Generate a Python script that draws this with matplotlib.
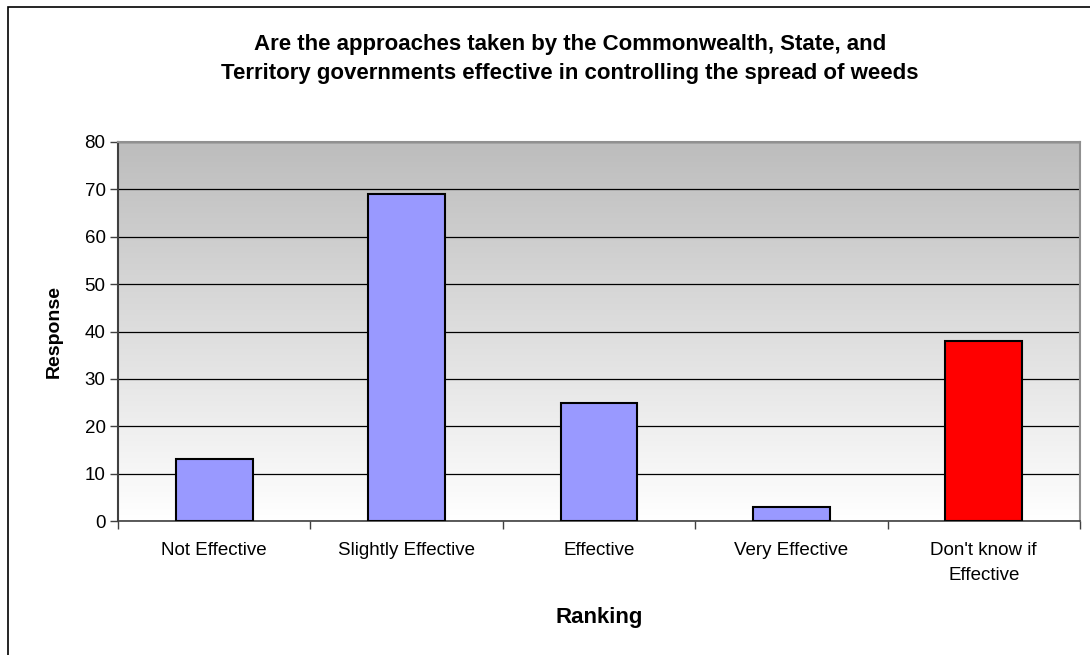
import matplotlib.pyplot as plt
import numpy as np
from matplotlib.patches import Rectangle

categories = ['Not Effective', 'Slightly Effective', 'Effective', 'Very Effective',
              "Don't know if\nEffective"]
responses = [13, 69, 25, 3, 38]
bar_colors = ['#9999ff', '#9999ff', '#9999ff', '#9999ff', '#ff0000']
title = ('Are the approaches taken by the Commonwealth, State, and\n'
         'Territory governments effective in controlling the spread of weeds')

plt.rcParams['font.family'] = ['Liberation Sans', 'DejaVu Sans']

W, H = 1090, 655
fig = plt.figure(figsize=(W / 100, H / 100), dpi=100)
fig.patch.set_facecolor('white')

# chart frame (left and top edges visible)
fig.patches.append(Rectangle((8 / W, -0.05), 1.1, 1 - 7 / H + 0.05,
                             transform=fig.transFigure, fill=False,
                             edgecolor='black', linewidth=1.2))

ax = fig.add_axes([118 / W, (H - 521) / H, (1080 - 118) / W, (521 - 142) / H])

# gray-to-white gradient background
grad = np.linspace(0, 1, 256).reshape(-1, 1)
top, bottom = np.array([0.74, 0.74, 0.74]), np.array([1.0, 1.0, 1.0])
img = top + (bottom - top) * grad[:, :, None]
ax.imshow(img, extent=[0, 1, 0, 1], transform=ax.transAxes, aspect='auto',
          zorder=0, interpolation='bilinear')

x = np.arange(len(categories))
ax.bar(x, responses, width=0.4, color=bar_colors, edgecolor='black',
       linewidth=1.5, zorder=3)

ax.set_xlim(-0.5, len(categories) - 0.5)
ax.set_ylim(0, 80)
ax.set_yticks(range(0, 81, 10))
ax.yaxis.grid(True, color='black', linewidth=0.9, zorder=1)
ax.set_axisbelow(True)

ax.set_xticks(x)
ax.set_xticklabels(categories, fontsize=13.5, linespacing=1.6)
ax.set_xticks(np.arange(-0.5, len(categories), 1), minor=True)
ax.tick_params(axis='x', which='major', length=0, pad=15)
ax.tick_params(axis='x', which='minor', length=6, width=1, color='#404040')
ax.tick_params(axis='y', length=6, width=1, labelsize=13.5, pad=3, color='#404040')

for side in ['top', 'right']:
    ax.spines[side].set_color('#909090')
    ax.spines[side].set_linewidth(1.5)
ax.spines['left'].set_color('#404040')
ax.spines['left'].set_linewidth(1.5)
ax.spines['bottom'].set_color('#404040')
ax.spines['bottom'].set_linewidth(1.2)

ax.set_ylabel('Response', fontsize=14, fontweight='bold', labelpad=16)
ax.set_xlabel('Ranking', fontsize=16, fontweight='bold', labelpad=17)

fig.text(570 / W, 1 - 59 / H, title, ha='center', va='center', fontsize=16,
         fontweight='bold', linespacing=1.5)

fig.savefig('out.png', dpi=100)
